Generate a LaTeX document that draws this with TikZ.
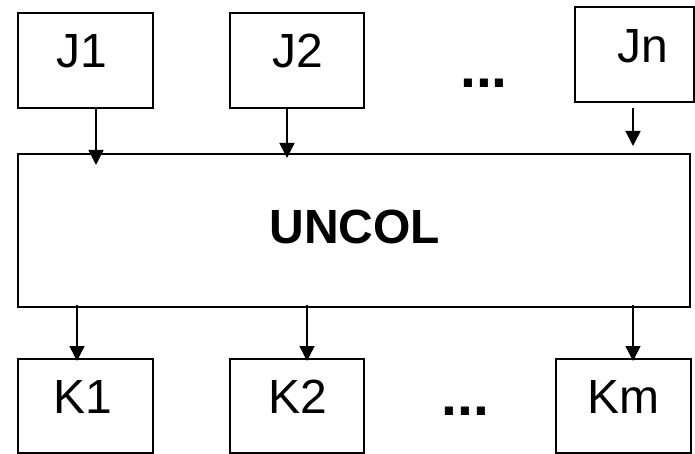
\documentclass[tikz,border=0pt]{standalone}
\usepackage{fontspec}
\setmainfont{Liberation Sans}
\usetikzlibrary{arrows.meta}
\begin{document}
\begin{tikzpicture}[x=1pt,y=-1pt,
  box/.style={draw=black,line width=2pt,rectangle,inner sep=0pt,fill=white},
  lbl/.style={anchor=base,inner sep=0pt,font=\fontsize{48}{56}\selectfont},
  bold/.style={lbl,font=\fontsize{48}{56}\selectfont\bfseries},
  dots/.style={anchor=base,inner sep=0pt,font=\fontsize{57}{62}\selectfont\bfseries},
  flow/.style={line width=1.5pt,-{Triangle[width=15pt,length=15pt]}}]
\useasboundingbox[fill=white] (0,0) rectangle (695,454);

% source boxes
\node[box,minimum width=135,minimum height=95] (J1) at (85.5,60.5) {};
\node[box,minimum width=134,minimum height=95] (J2) at (297,60.5) {};
\node[box,minimum width=119,minimum height=95] (Jn) at (634.5,54.5) {};
\node[lbl] (J1t) at (81.5,68) {J1};
\node[lbl] (J2t) at (297.5,68) {J2};
\node[lbl] (Jnt) at (642.5,63) {Jn};
\node[dots] (Jdots) at (484,88) {...};

% intermediate language
\node[box,minimum width=672,minimum height=153] (U) at (354,230.5) {};
\node[bold] (Ut) at (355,243) {UNCOL};

% target boxes
\node[box,minimum width=135,minimum height=94] (K1) at (85.5,406) {};
\node[box,minimum width=134,minimum height=94] (K2) at (297,406) {};
\node[box,minimum width=135,minimum height=94] (Km) at (623.5,406) {};
\node[lbl] (K1t) at (82.5,413) {K1};
\node[lbl] (K2t) at (297.5,413) {K2};
\node[lbl] (Kmt) at (623.5,413) {Km};
\node[dots] (Kdots) at (465.5,415) {...};

% arrow end points
\coordinate (a1) at (96,165);
\coordinate (a2) at (287,158);
\coordinate (an0) at (633,108);
\coordinate (an) at (633,146);
\coordinate (b1) at (77,305);
\coordinate (b2) at (307,305);
\coordinate (bm) at (633,305);

% connectors
\draw[flow] (J1.south -| a1) -- (a1);
\draw[flow] (J2.south -| a2) -- (a2);
\draw[flow] (an0) -- (an);
\draw[flow] (b1) -- ([yshift=-3pt]K1.north -| b1);
\draw[flow] (b2) -- ([yshift=-3pt]K2.north -| b2);
\draw[flow] (bm) -- ([yshift=-3pt]Km.north -| bm);
\end{tikzpicture}
\end{document}
